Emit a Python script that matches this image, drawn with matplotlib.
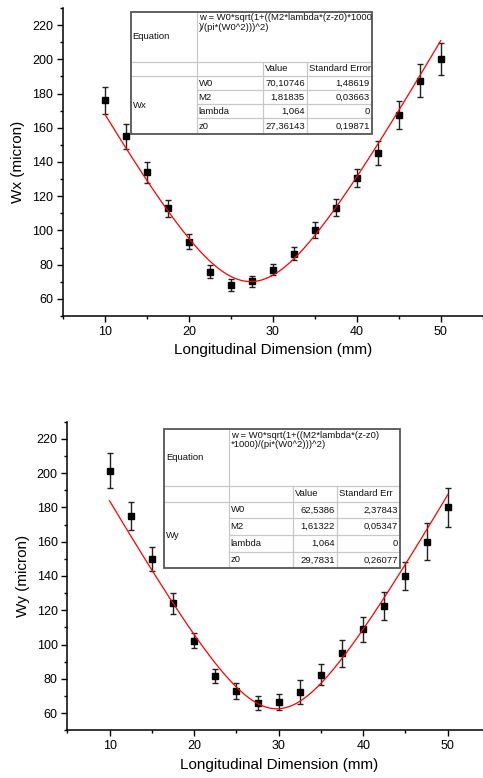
import numpy as np
import matplotlib
matplotlib.use('Agg')
import matplotlib.pyplot as plt
from matplotlib.ticker import MultipleLocator

plt.rcParams['font.family'] = ['Liberation Sans', 'DejaVu Sans']

# posiciones longitudinales (mm)
z = [10, 12.5, 15, 17.5, 20, 22.5, 25, 27.5, 30, 32.5, 35, 37.5, 40, 42.5, 45, 47.5, 50]

# radio en x (micron) y su error
wx = [176, 155, 134, 113, 93.5, 76, 68.2, 70.2, 77, 86.4, 100.3, 113.3, 130.5, 145, 167.5, 187.5, 200]
wx_err = [7.8, 7.2, 6.2, 5.0, 4.3, 4.0, 3.6, 3.0, 3.2, 3.9, 4.8, 4.9, 5.4, 7.0, 8.1, 9.5, 9.4]

# radio en y (micron) y su error
wy = [201.4, 175, 150, 124, 102.3, 81.7, 72.8, 66, 66.4, 72.4, 82.5, 94.8, 109, 122.5, 140, 160, 180]
wy_err = [10.2, 8.2, 7.1, 6.0, 4.2, 4.0, 4.7, 3.9, 4.5, 7.2, 6.2, 7.6, 7.3, 8.4, 8.0, 10.9, 11.5]

# parametros del ajuste: nombre, valor, error
fit_names = ['W0', 'M2', 'lambda', 'z0']
fit_x_vals = ['70,10746', '1,81835', '1,064', '27,36143']
fit_x_errs = ['1,48619', '0,03663', '0', '0,19871']
fit_y_vals = ['62,5386', '1,61322', '1,064', '29,7831']
fit_y_errs = ['2,37843', '0,05347', '0', '0,26077']

eq_x = 'w = W0*sqrt(1+((M2*lambda*(z-z0)*1000\n)/(pi*(W0^2)))^2)'
eq_y = 'w = W0*sqrt(1+((M2*lambda*(z-z0)\n*1000)/(pi*(W0^2)))^2)'

W, H = 483, 778
fig = plt.figure(figsize=(W / 100, H / 100), dpi=100)


def px_axes(left, top, right, bottom):
    return fig.add_axes([left / W, 1 - bottom / H, (right - left) / W, (bottom - top) / H])


def beam(zz, w0, m2, lam, z0):
    return w0 * np.sqrt(1 + ((m2 * lam * (zz - z0) * 1000) / (np.pi * w0 ** 2)) ** 2)


def num(s):
    return float(s.replace(',', '.'))


def draw_panel(ax, y, yerr, vals, ylabel):
    ax.errorbar(z, y, yerr=yerr, fmt='s', color='black', ecolor='#222222',
                markersize=5, elinewidth=1, capsize=2.2, capthick=1, zorder=3)
    zz = np.linspace(10, 50, 300)
    p = [num(v) for v in vals]
    ax.plot(zz, beam(zz, *p), color='red', lw=0.9, zorder=4)
    ax.set_xlim(5, 55)
    ax.set_ylim(50, 230)
    ax.xaxis.set_major_locator(MultipleLocator(10))
    ax.xaxis.set_minor_locator(MultipleLocator(5))
    ax.yaxis.set_minor_locator(MultipleLocator(10))
    ax.set_yticks(range(60, 221, 20))
    for s in ['top', 'right']:
        ax.spines[s].set_visible(False)
    for s in ['left', 'bottom']:
        ax.spines[s].set_linewidth(1.1)
    ax.tick_params(which='major', direction='out', length=4, width=1, labelsize=9, pad=3)
    ax.tick_params(which='minor', direction='out', length=2.5, width=1)
    ax.set_xlabel('Longitudinal Dimension (mm)', fontsize=11, labelpad=4)
    ax.set_ylabel(ylabel, fontsize=11, labelpad=5)


def draw_table(cols, rows, eq, name, vals, errs, head_err):
    # cols, rows en pixeles de la figura
    fx = lambda x: x / W
    fy = lambda y: 1 - y / H
    grid = dict(color='#c8c8c8', lw=0.9, transform=fig.transFigure)
    x0, x1, x2, x3, x4 = cols
    r0, r1, r2, r3, r4, r5, r6 = rows
    fig.patches.append(plt.Rectangle((fx(x0), fy(r6)), fx(x4) - fx(x0), fy(r0) - fy(r6),
                                     transform=fig.transFigure, facecolor='white',
                                     edgecolor='none', zorder=5))
    lines = []
    for r in [r1, r2]:
        lines.append(([x0, x4], [r, r]))
    for r in [r3, r4, r5]:
        lines.append(([x1, x4], [r, r]))
    lines.append(([x1, x1], [r0, r6]))
    lines.append(([x2, x2], [r1, r6]))
    lines.append(([x3, x3], [r1, r6]))
    for xs, ys in lines:
        fig.add_artist(plt.Line2D([fx(v) for v in xs], [fy(v) for v in ys], zorder=6, **grid))
    fig.add_artist(plt.Rectangle((fx(x0), fy(r6)), fx(x4) - fx(x0), fy(r0) - fy(r6),
                                 transform=fig.transFigure, facecolor='none',
                                 edgecolor='#555555', lw=1.3, zorder=7))
    fs = 6.8
    txt = dict(fontsize=fs, transform=fig.transFigure, zorder=8, color='#111111')
    fig.text(fx(x0 + 2), fy((r0 + r1) / 2), 'Equation', va='center', ha='left', **txt)
    fig.text(fx(x1 + 2), fy(r0 + 1.5), eq, va='top', ha='left', linespacing=1.05, **txt)
    fig.text(fx(x2 + 2), fy((r1 + r2) / 2), 'Value', va='center', ha='left', **txt)
    fig.text(fx(x3 + 2), fy((r1 + r2) / 2), head_err, va='center', ha='left', **txt)
    fig.text(fx(x0 + 2), fy((r2 + r6) / 2), name, va='center', ha='left', **txt)
    body = [r2, r3, r4, r5, r6]
    for i in range(4):
        yc = fy((body[i] + body[i + 1]) / 2)
        fig.text(fx(x1 + 2), yc, fit_names[i], va='center', ha='left', **txt)
        fig.text(fx(x3 - 2), yc, vals[i], va='center', ha='right', **txt)
        fig.text(fx(x4 - 2), yc, errs[i], va='center', ha='right', **txt)


ax1 = px_axes(63, 8, 482.6, 316)
draw_panel(ax1, wx, wx_err, fit_x_vals, 'Wx (micron)')
draw_table([130.7, 196.7, 262.7, 306.7, 371.7], [11.7, 61.7, 76, 90, 104.3, 118.3, 134],
           eq_x, 'Wx', fit_x_vals, fit_x_errs, 'Standard Error')

ax2 = px_axes(67.3, 421.7, 490, 730.3)
draw_panel(ax2, wy, wy_err, fit_y_vals, 'Wy (micron)')
draw_table([164, 228.7, 293.3, 336.7, 400], [429, 485.7, 501.7, 518.3, 535, 551.7, 568.3],
           eq_y, 'Wy', fit_y_vals, fit_y_errs, 'Standard Err')

fig.savefig('out.png', dpi=100)
